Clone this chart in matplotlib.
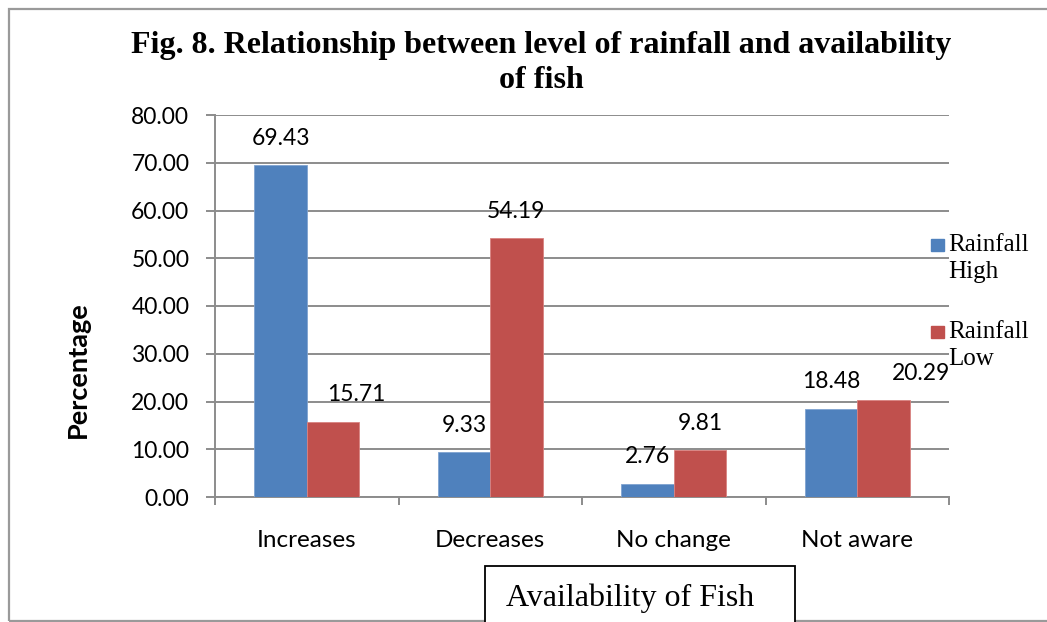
import matplotlib
matplotlib.use("Agg")
import matplotlib.pyplot as plt
from matplotlib.patches import Rectangle
import numpy as np

# Chart data
categories = ["Increases", "Decreases", "No change", "Not aware"]
rainfall_high = [69.43, 9.33, 2.76, 18.48]
rainfall_low = [15.71, 54.19, 9.81, 20.29]
series_names = ["Rainfall\nHigh", "Rainfall\nLow"]
y_ticks = [0, 10, 20, 30, 40, 50, 60, 70, 80]

BLUE = "#4F81BD"
RED = "#C0504D"
GRID = "#8C8C8C"

sans = ["Lato", "DejaVu Sans"]
serif = ["Liberation Serif", "DejaVu Serif"]

fig = plt.figure(figsize=(10.47, 6.22), dpi=100)
W, H = 1047, 622

def fx(px):
    return px / W

def fy(py):
    return 1 - py / H

ax = fig.add_axes([fx(215), fy(497), fx(949) - fx(215), fy(115) - fy(497)])

x = np.arange(len(categories))
bw = 0.285
ax.bar(x - bw / 2, rainfall_high, bw, color=BLUE, zorder=3,
       edgecolor="#7FA3D0", linewidth=0.6)
ax.bar(x + bw / 2, rainfall_low, bw, color=RED, zorder=3,
       edgecolor="#D98280", linewidth=0.6)

# Value labels above bars
lo_shift = {0: 23, 3: 38}
for i, v in enumerate(rainfall_high):
    ax.annotate(f"{v:.2f}", (x[i] - bw / 2, v), xytext=(0, 19.5),
                textcoords="offset points", ha="center", va="center",
                fontsize=16.5, family=sans, color="black", zorder=5)
for i, v in enumerate(rainfall_low):
    ax.annotate(f"{v:.2f}", (x[i] + bw / 2, v),
                xytext=(lo_shift.get(i, 0) * 0.72, 19.5),
                textcoords="offset points", ha="center", va="center",
                fontsize=16.5, family=sans, color="black", zorder=5,
                annotation_clip=False)

ax.set_xlim(-0.5, len(categories) - 0.5)
ax.set_ylim(0, 80)
ax.set_yticks(y_ticks)
ax.set_yticklabels([f"{t:.2f}" for t in y_ticks], fontsize=16.5, family=sans)
ax.set_xticks(x)
ax.set_xticklabels(categories, fontsize=17.5, family=sans)
ax.set_xticks(np.arange(len(categories) + 1) - 0.5, minor=True)
ax.tick_params(axis="x", which="major", length=0, pad=24)
ax.tick_params(axis="x", which="minor", length=6, width=1.4, color=GRID,
               direction="out")
ax.tick_params(axis="y", length=6.5, width=1.4, color=GRID, pad=12)

ax.yaxis.grid(True, color=GRID, linewidth=1.4, zorder=0)
ax.set_axisbelow(True)
for side in ["top", "right"]:
    ax.spines[side].set_visible(False)
for side in ["left", "bottom"]:
    ax.spines[side].set_color(GRID)
    ax.spines[side].set_linewidth(1.4)

# Y-axis title
fig.text(fx(78), fy(370), "Percentage", rotation=90, ha="center", va="center",
         fontsize=19.5, family=sans, fontweight="bold")

# Title
fig.text(fx(541), fy(45), "Fig. 8. Relationship between level of rainfall and availability",
         ha="center", va="center", fontsize=23, fontweight="bold", family=serif)
fig.text(fx(541), fy(80), "of fish", ha="center", va="center",
         fontsize=23, fontweight="bold", family=serif)

# Legend
for (name, col, yc) in [(series_names[0], BLUE, 245), (series_names[1], RED, 332)]:
    fig.patches.append(Rectangle((fx(931), fy(yc + 6)), fx(13), fy(yc - 6) - fy(yc + 6),
                                 transform=fig.transFigure, color=col))
    fig.text(fx(948), fy(yc - 11), name, ha="left", va="top", fontsize=18,
             family=serif, linespacing=1.3)

# X-axis title box
fig.patches.append(Rectangle((fx(485), fy(640)), fx(795) - fx(485), fy(566) - fy(640),
                             transform=fig.transFigure, facecolor="white",
                             edgecolor="black", linewidth=1.3, zorder=5))
fig.text(fx(630), fy(598), "Availability of Fish", ha="center", va="center",
         fontsize=23, family=serif, zorder=6)

# Outer chart border
fig.patches.append(Rectangle((fx(9), fy(621)), fx(1060) - fx(9), fy(9) - fy(621),
                             transform=fig.transFigure, facecolor="none",
                             edgecolor="#9A9A9A", linewidth=1.6, zorder=1))

fig.savefig("out.png", dpi=100)
